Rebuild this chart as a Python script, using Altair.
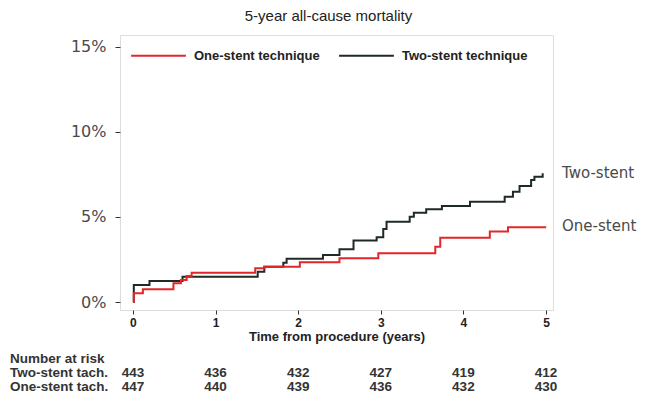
import altair as alt
import pandas as pd

chart_title = "5-year all-cause mortality"
groups = ["One-stent technique", "Two-stent technique"]
colors = ["#e3262a", "#1e2a22"]

# Kaplan-Meier step points (years, cumulative mortality %)
two_t = [0.0, 0.01, 0.20, 0.60, 1.51, 1.59, 1.82, 1.86, 2.30, 2.50, 2.67, 2.95, 3.03, 3.07,
         3.35, 3.40, 3.55, 3.74, 4.08, 4.50, 4.60, 4.68, 4.82, 4.86, 4.96]
two_v = [0.0, 1.00, 1.24, 1.49, 1.78, 2.08, 2.31, 2.55, 2.76, 3.10, 3.61, 3.81, 4.30, 4.72,
         5.02, 5.25, 5.45, 5.65, 5.90, 6.19, 6.49, 6.82, 7.18, 7.37, 7.57]
one_t = [0.0, 0.01, 0.12, 0.49, 0.58, 0.65, 0.71, 1.48, 1.59, 2.02, 2.50, 2.97, 3.66, 3.72,
         4.32, 4.54, 4.99]
one_v = [0.0, 0.51, 0.75, 1.10, 1.29, 1.53, 1.72, 1.98, 2.08, 2.34, 2.57, 2.86, 3.25, 3.78,
         4.14, 4.39, 4.45]

risk_times = [0, 1, 2, 3, 4, 5]
risk_two = [443, 436, 432, 427, 419, 412]
risk_one = [447, 440, 439, 436, 432, 430]
risk_row_labels = ["Number at risk", "Two-stent tach.", "One-stent tach."]

y_ticks = [0, 5, 10, 15]
x_ticks = [0, 1, 2, 3, 4, 5]
end_labels = ["Two-stent", "One-stent"]

curves = pd.DataFrame(
    {"t": two_t + one_t,
     "v": two_v + one_v,
     "g": [groups[1]] * len(two_t) + [groups[0]] * len(one_t)}
)

xscale = alt.Scale(domain=[-0.157, 5.085], nice=False, zero=False)
yscale = alt.Scale(domain=[-0.47, 15.7], nice=False, zero=False)

x_enc = alt.X(
    "t:Q", scale=xscale,
    axis=alt.Axis(values=x_ticks, format="d", title="Time from procedure (years)",
                  grid=False, domain=False, tickSize=4, tickColor="#333",
                  labelFont="Liberation Sans", labelFontSize=12, labelFontWeight="bold",
                  labelColor="#222", labelPadding=3,
                  titleFont="Liberation Sans", titleFontSize=13, titleFontWeight="bold",
                  titleColor="#222", titlePadding=2),
)
y_enc = alt.Y(
    "v:Q", scale=yscale,
    axis=alt.Axis(values=y_ticks, labelExpr="datum.value + '%'", title=None,
                  grid=False, domain=False, tickSize=5, tickColor="#333",
                  labelFont="DejaVu Sans", labelFontSize=16, labelColor="#4a4a4a",
                  labelPadding=9),
)

lines = alt.Chart(curves).mark_line(interpolate="step-after", strokeWidth=2).encode(
    x=x_enc,
    y=y_enc,
    color=alt.Color(
        "g:N",
        scale=alt.Scale(domain=groups, range=colors),
        legend=alt.Legend(
            title=None, orient="none", legendX=10, legendY=-8, direction="horizontal",
            columns=2, symbolType="stroke", symbolSize=3000, symbolStrokeWidth=2,
            labelFont="Liberation Sans", labelFontSize=13, labelFontWeight="bold",
            labelColor="#222", labelOffset=7, columnPadding=15, padding=0, labelLimit=300,
        ),
    ),
    detail="g:N",
)

ends = pd.DataFrame({"lab": end_labels, "v": [two_v[-1], one_v[-1]], "dy": [-4, -1]})
end_text = alt.Chart(ends).mark_text(
    align="left", baseline="middle", font="DejaVu Sans", fontSize=15, color="#4a4a4a"
).encode(x=alt.value(442), y=alt.Y("v:Q", scale=yscale), text="lab:N", yOffset="dy:Q")

risk_df = pd.DataFrame({"t": risk_times, "two": risk_two, "one": risk_one})
tbl_font = dict(font="Liberation Sans", fontWeight="bold", fontSize=13.5, color="#333",
                baseline="middle")
risk_two_text = alt.Chart(risk_df).mark_text(align="center", **tbl_font).encode(
    x=alt.X("t:Q", scale=xscale), y=alt.value(338), text="two:Q")
risk_one_text = alt.Chart(risk_df).mark_text(align="center", **tbl_font).encode(
    x=alt.X("t:Q", scale=xscale), y=alt.value(352), text="one:Q")

rows_df = pd.DataFrame({"lab": risk_row_labels})
row_pix = [324, 338, 352]
row_layers = [
    alt.Chart(rows_df).transform_filter(alt.datum.lab == lab)
    .mark_text(align="left", **tbl_font)
    .encode(x=alt.value(-110), y=alt.value(py), text="lab:N")
    for lab, py in zip(risk_row_labels, row_pix)
]

chart = (
    alt.layer(lines, end_text, risk_two_text, risk_one_text, *row_layers)
    .properties(
        width=433, height=275,
        title=alt.TitleParams(chart_title, font="Liberation Sans", fontSize=15,
                              fontWeight="normal", color="#222", anchor="middle",
                              offset=3, dx=-8),
        autosize=alt.AutoSizeParams(type="none"),
        padding={"left": 112, "top": 27, "right": 84, "bottom": 85},
    )
    .configure_view(stroke="#333", strokeWidth=1.2)
    .configure(background="white")
)

chart.save("out.html", embed_options={"renderer": "svg", "actions": False})
